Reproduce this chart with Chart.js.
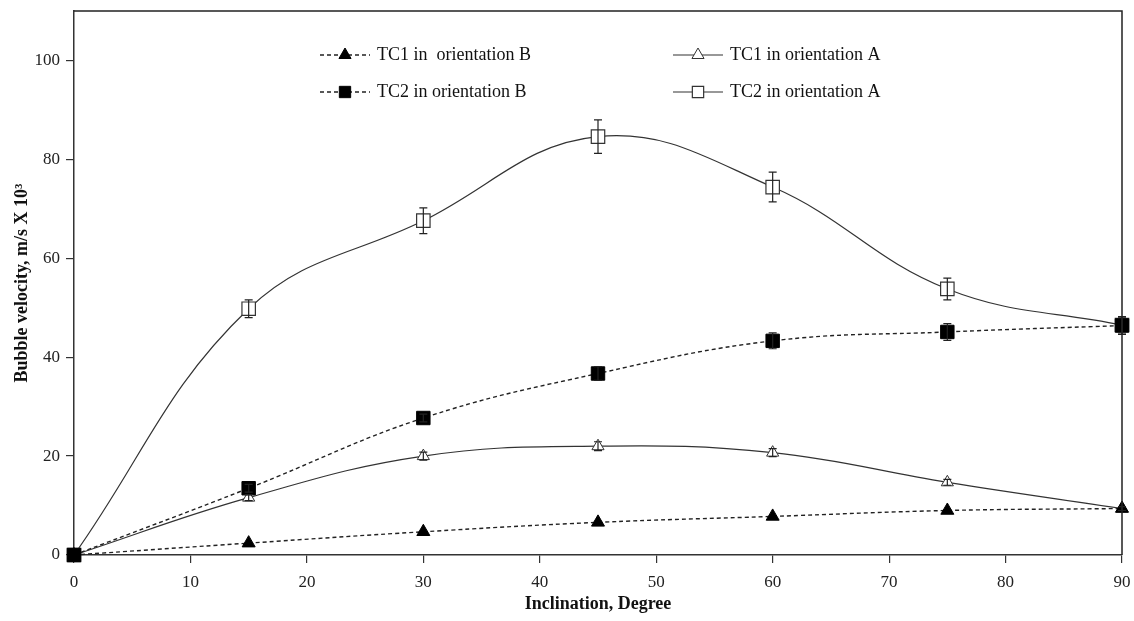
<!DOCTYPE html>
<html>
<head>
<meta charset="utf-8">
<script src="https://cdn.jsdelivr.net/npm/chart.js@4.4.1/dist/chart.umd.min.js"></script>
<style>
  html, body { margin: 0; padding: 0; background: #fff; }
  #wrap { width: 1134px; height: 621px; position: relative; }
</style>
</head>
<body>
<div id="wrap"><canvas id="c" width="1134" height="621"></canvas></div>
<script>
// ---- data ----
const inclination = [0, 15, 30, 45, 60, 75, 90];
const tc1B = [0, 2.4, 4.7, 6.6, 7.8, 9.0, 9.4];
const tc1A = [0, 11.6, 20.0, 22.0, 20.7, 14.7, 9.4];
const tc2B = [0, 13.5, 27.7, 36.7, 43.3, 45.1, 46.4];
const tc2A = [0, 49.8, 67.6, 84.6, 74.4, 53.8, 46.5];
const tc1BErr = [0, 0, 0, 0, 0, 0, 0];
const tc1AErr = [0, 0.6, 0.8, 0.9, 0.8, 0.6, 0.4];
const tc2BErr = [0, 0.8, 0.8, 1.4, 1.6, 1.7, 1.8];
const tc2AErr = [0, 1.8, 2.6, 3.4, 3.0, 2.2, 1.6];
const yTicks = [0, 20, 40, 60, 80, 100];
const xTicks = [0, 10, 20, 30, 40, 50, 60, 70, 80, 90];
const labels = ["TC1 in  orientation B", "TC2 in orientation B", "TC1 in orientation A", "TC2 in orientation A"];

const pts = (ys) => inclination.map((x, i) => ({ x: x, y: ys[i] }));
const SERIF = "'Liberation Serif', 'Times New Roman', serif";

const dsB1 = { label: labels[0], data: pts(tc1B), err: tc1BErr, borderColor: '#222', borderWidth: 1.4, borderDash: [4, 3],
  pointStyle: 'triangle', pointRadius: 7.5, pointBackgroundColor: '#000', pointBorderColor: '#000', pointBorderWidth: 1,
  tension: 0.4, order: 1, clip: false };
const dsB2 = { label: labels[1], data: pts(tc2B), err: tc2BErr, borderColor: '#222', borderWidth: 1.4, borderDash: [4, 3],
  pointStyle: 'rect', pointRadius: 9.5, pointBackgroundColor: '#000', pointBorderColor: '#000', pointBorderWidth: 1,
  tension: 0.4, order: 0, clip: false };
const dsA1 = { label: labels[2], data: pts(tc1A), err: tc1AErr, borderColor: '#333', borderWidth: 1.2,
  pointStyle: 'triangle', pointRadius: 7, pointBackgroundColor: '#fff', pointBorderColor: '#333', pointBorderWidth: 1,
  tension: 0.4, order: 3, clip: false };
const dsA2 = { label: labels[3], data: pts(tc2A), err: tc2AErr, borderColor: '#333', borderWidth: 1.2,
  pointStyle: 'rect', pointRadius: 9.5, pointBackgroundColor: '#fff', pointBorderColor: '#333', pointBorderWidth: 1.2,
  tension: 0.4, order: 2, clip: false };

const errorBars = {
  id: 'errorBars',
  afterDatasetsDraw(chart) {
    const ctx = chart.ctx, xs = chart.scales.x, ys = chart.scales.y;
    ctx.save();
    ctx.strokeStyle = '#222';
    ctx.lineWidth = 1.2;
    chart.data.datasets.forEach(ds => {
      ds.data.forEach((p, i) => {
        const e = ds.err[i];
        if (!e) return;
        const x = xs.getPixelForValue(p.x);
        const y1 = ys.getPixelForValue(p.y - e), y2 = ys.getPixelForValue(p.y + e);
        ctx.beginPath();
        ctx.moveTo(x, y1); ctx.lineTo(x, y2);
        ctx.moveTo(x - 4, y1); ctx.lineTo(x + 4, y1);
        ctx.moveTo(x - 4, y2); ctx.lineTo(x + 4, y2);
        ctx.stroke();
      });
    });
    ctx.restore();
  }
};

const frame = {
  id: 'frame',
  afterDraw(chart) {
    const { ctx, chartArea: a } = chart;
    ctx.save();
    ctx.strokeStyle = '#222';
    ctx.lineWidth = 1.5;
    ctx.beginPath();
    ctx.moveTo(a.left, a.top); ctx.lineTo(a.right, a.top); ctx.lineTo(a.right, a.bottom);
    ctx.stroke();
    ctx.restore();
  }
};

const customLegend = {
  id: 'customLegend',
  afterDraw(chart) {
    const ctx = chart.ctx;
    const items = [
      { ds: dsB1, x: 320, y: 55 }, { ds: dsB2, x: 320, y: 92 },
      { ds: dsA1, x: 673, y: 55 }, { ds: dsA2, x: 673, y: 92 }
    ];
    ctx.save();
    items.forEach(it => {
      const ds = it.ds;
      ctx.strokeStyle = ds.borderColor;
      ctx.lineWidth = ds.borderWidth;
      ctx.setLineDash(ds.borderDash || []);
      ctx.beginPath();
      ctx.moveTo(it.x, it.y); ctx.lineTo(it.x + 50, it.y);
      ctx.stroke();
      ctx.setLineDash([]);
      ctx.fillStyle = ds.pointBackgroundColor;
      ctx.strokeStyle = ds.pointBorderColor;
      ctx.lineWidth = ds.pointBorderWidth;
      const r = ds.pointStyle === 'rect' ? 8 : 7;
      Chart.helpers.drawPoint(ctx, { pointStyle: ds.pointStyle, rotation: 0, borderWidth: ds.pointBorderWidth, radius: r }, it.x + 25, it.y);
      ctx.fillStyle = '#111';
      ctx.font = '18px ' + SERIF;
      ctx.textBaseline = 'middle';
      ctx.textAlign = 'left';
      ctx.fillText(ds.label, it.x + 57, it.y);
    });
    ctx.restore();
  }
};

new Chart(document.getElementById('c'), {
  type: 'line',
  data: { datasets: [dsB2, dsB1, dsA2, dsA1] },
  options: {
    responsive: false,
    animation: false,
    devicePixelRatio: 1,
    layout: { autoPadding: false, padding: { top: 11, right: 12, left: 0, bottom: 0 } },
    plugins: { legend: { display: false }, tooltip: { enabled: false } },
    scales: {
      x: {
        type: 'linear', min: 0, max: 90,
        afterFit: s => { s.height = 66; s.paddingLeft = 0; s.paddingRight = 0; },
        afterBuildTicks: s => { s.ticks = xTicks.map(v => ({ value: v })); },
        grid: { display: true, drawOnChartArea: false, drawTicks: true, tickLength: 8, color: '#333', lineWidth: 1.2 },
        border: { display: true, color: '#333', width: 1.5 },
        ticks: { color: '#222', font: { family: SERIF, size: 17 }, padding: 9, maxRotation: 0 },
        title: { display: true, text: 'Inclination, Degree', color: '#111',
          font: { family: SERIF, size: 18, weight: 'bold' }, padding: { top: 0, bottom: 6 } }
      },
      y: {
        type: 'linear', min: 0, max: 110,
        afterFit: s => { s.width = 74; s.paddingTop = 0; s.paddingBottom = 0; },
        afterBuildTicks: s => { s.ticks = yTicks.map(v => ({ value: v })); },
        grid: { display: true, drawOnChartArea: false, drawTicks: true, tickLength: 8, color: '#333', lineWidth: 1.2 },
        border: { display: true, color: '#333', width: 1.5 },
        ticks: { color: '#222', font: { family: SERIF, size: 17 }, padding: 6 },
        title: { display: true, text: 'Bubble velocity, m/s X 10\u00B3', color: '#111',
          font: { family: SERIF, size: 18, weight: 'bold' }, padding: { top: 12, bottom: 0 } }
      }
    }
  },
  plugins: [errorBars, frame, customLegend]
});
</script>
</body>
</html>
